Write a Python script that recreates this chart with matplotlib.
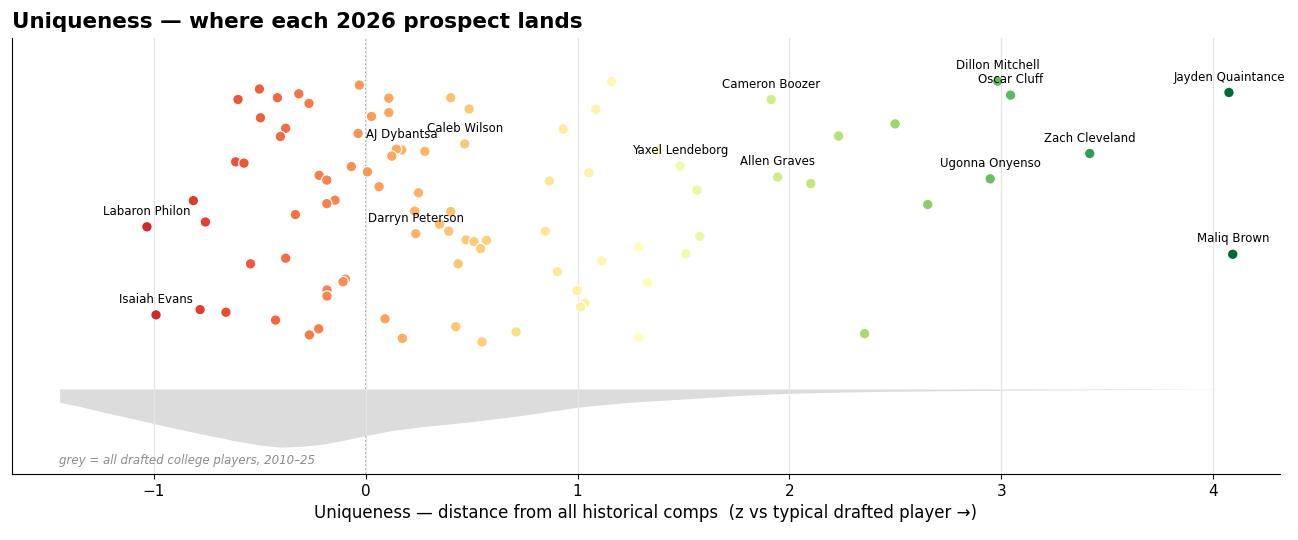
"""Uniqueness strip: where each 2026 prospect lands against the historical
distribution of drafted college players."""

import matplotlib
matplotlib.use("Agg")
import matplotlib.pyplot as plt
from matplotlib.colors import Normalize

# prospect uniqueness z-scores (x) and vertical jitter (y, 0-100 scale)
uniq_z = [
    -0.502, -0.603, -0.417, -0.316, -0.268, -0.497, -0.378, -0.403, -0.614, -0.575,
    -0.220, -0.184, -0.145, -0.184, -0.814, -0.332, -0.757, -1.033, -0.544, -0.378,
    -0.096, -0.107, -0.183, -0.183, -0.990, -0.782, -0.660, -0.426, -0.222, -0.266,
    -0.030, 0.109, 0.109, 0.027, 0.401, 0.488, 1.160, 1.086, 0.932, -0.036,
    0.169, 0.145, 0.467, 0.123, 0.279, -0.068, 0.008, 0.063, 0.249, 0.867,
    1.053, 0.231, 0.401, 0.348, 0.236, 0.392, 0.474, 0.511, 0.570, 0.542,
    0.436, 0.848, 0.905, 0.998, 1.035, 1.014, 1.114, 1.288, 1.330, 0.091,
    0.173, 0.425, 0.549, 0.710, 1.288, 1.914, 2.232, 2.499, 1.944, 2.101,
    1.564, 2.653, 1.577, 1.511, 2.355, 1.484, 1.380, 2.983, 3.044, 4.075,
    3.418, 2.948, 4.093,
]
jitter = [
    88.3, 85.9, 86.3, 87.2, 85.0, 81.7, 79.3, 77.4, 71.6, 71.3,
    68.5, 67.4, 62.8, 62.0, 62.7, 59.5, 57.8, 56.7, 48.2, 49.5,
    44.7, 44.1, 42.2, 40.8, 36.5, 37.7, 37.1, 35.3, 33.3, 31.9,
    89.2, 86.2, 82.9, 82.0, 86.3, 83.7, 90.0, 83.6, 79.1, 78.1,
    74.3, 74.5, 75.7, 72.9, 74.0, 70.5, 69.3, 65.9, 64.5, 67.2,
    69.1, 60.3, 60.2, 57.3, 55.1, 55.7, 53.7, 53.3, 53.6, 51.7,
    48.2, 55.7, 46.4, 42.1, 39.2, 38.3, 48.9, 52.1, 43.9, 35.6,
    31.1, 33.8, 30.3, 32.6, 31.3, 85.9, 77.5, 80.3, 68.1, 66.6,
    65.1, 61.8, 54.5, 50.5, 32.2, 70.6, 74.2, 90.1, 86.9, 87.5,
    73.5, 67.7, 50.4,
]
# names shown on the chart, keyed by index into the arrays above
labels = {
    17: "Labaron Philon", 24: "Isaiah Evans", 40: "AJ Dybantsa", 42: "Caleb Wilson",
    54: "Darryn Peterson", 75: "Cameron Boozer", 78: "Allen Graves", 85: "Yaxel Lendeborg",
    87: "Dillon Mitchell", 88: "Oscar Cluff", 89: "Jayden Quaintance", 90: "Zach Cleveland",
    91: "Ugonna Onyenso", 92: "Maliq Brown",
}

# historical density of all drafted college players (KDE)
kde_x = [-1.445, -1.35, -1.25, -1.125, -1.0, -0.875, -0.75, -0.6, -0.5, -0.4, -0.3,
         -0.2, -0.1, 0.0, 0.125, 0.25, 0.375, 0.5, 0.625, 0.75, 0.875, 1.0, 1.125,
         1.25, 1.375, 1.5, 1.75, 2.0, 2.25, 2.5, 2.75, 3.0, 3.5, 4.1]
kde_density = [0.083, 0.109, 0.141, 0.178, 0.216, 0.253, 0.288, 0.328, 0.350, 0.364, 0.358,
               0.344, 0.319, 0.291, 0.259, 0.238, 0.221, 0.204, 0.184, 0.163, 0.138, 0.114,
               0.097, 0.083, 0.072, 0.063, 0.041, 0.027, 0.019, 0.014, 0.011, 0.008, 0.004, 0.0]

KDE_BASE = 19.5
KDE_SCALE = 36.7

fig = plt.figure(figsize=(12.98, 5.4), dpi=100, facecolor="white")
ax = fig.add_axes([12 / 1298, 66 / 540, 1268 / 1298, 436 / 540])

ax.grid(True, axis="x", color="#e6e6e6", linewidth=0.9, zorder=0)
ax.axvline(0, color="#888888", linestyle=":", linewidth=1.1, zorder=1)

ax.fill_between(kde_x, KDE_BASE, [KDE_BASE - d * KDE_SCALE for d in kde_density],
                color="#dcdcdc", linewidth=0, zorder=1)
ax.text(-1.45, 3.2, "grey = all drafted college players, 2010–25", fontsize=8.5,
        style="italic", color="#8c8c8c", ha="left", va="center")

norm = Normalize(vmin=-1.5, vmax=4.1)
ax.scatter(uniq_z, jitter, c=uniq_z, cmap="RdYlGn", norm=norm, s=58,
           edgecolors="white", linewidths=0.9, zorder=3)

for i, name in labels.items():
    ax.annotate(name, (uniq_z[i], jitter[i]), xytext=(0, 11), textcoords="offset points",
                ha="center", va="center", fontsize=8.5, color="black", zorder=4)

ax.set_xlim(-1.67, 4.316)
ax.set_ylim(0, 100)
ax.set_yticks([])
ax.set_xticks([-1, 0, 1, 2, 3, 4])
ax.tick_params(axis="x", labelsize=11)
ax.spines["top"].set_visible(False)
ax.spines["right"].set_visible(False)
ax.set_xlabel("Uniqueness — distance from all historical comps  (z vs typical drafted player →)",
              fontsize=12)
ax.set_title("Uniqueness — where each 2026 prospect lands", loc="left",
             fontsize=15.5, fontweight="bold", pad=7)

fig.savefig("out.png", dpi=100, facecolor="white")
plt.close(fig)
